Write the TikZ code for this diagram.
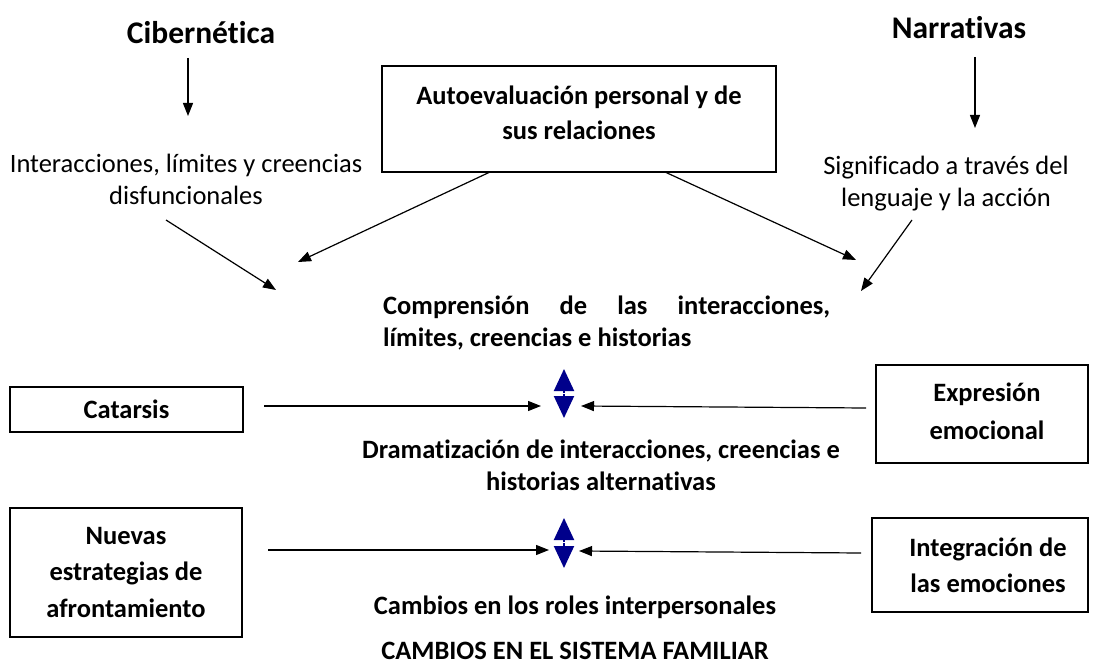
\documentclass[tikz,border=0pt]{standalone}
\usepackage{fontspec}
\setmainfont{Carlito}[Ligatures=NoCommon]
\usetikzlibrary{arrows.meta}
\begin{document}
\begin{tikzpicture}[x=1pt,y=-1pt,
  txt/.style={font=\fontsize{26.5}{32}\selectfont, align=center, inner sep=0pt},
  btxt/.style={font=\fontsize{26.5}{32}\selectfont\bfseries, align=center, inner sep=0pt},
  ttl/.style={font=\fontsize{31.5}{36}\selectfont\bfseries, inner sep=0pt},
  box/.style={draw, line width=1.4pt, inner sep=0pt, font=\fontsize{26.5}{36}\selectfont\bfseries, align=center},
  arr/.style={-{Triangle[length=13pt,width=10pt]}, line width=1.2pt},
  barr/.style={{Triangle[length=22pt,width=20pt]}-{Triangle[length=22pt,width=20pt]}, line width=2pt, draw={rgb,255:red,0;green,0;blue,139}, fill={rgb,255:red,0;green,0;blue,139}}
]
\useasboundingbox (0,0) rectangle (1096,666);

% titles
\node[ttl] (cib) at (201,33) {Cibernética};
\node[ttl] (nar) at (959,28) {Narrativas};

\coordinate (cibA) at (188,58);
\coordinate (cibB) at (188,116);
\draw[arr] (cibA) -- (cibB);
\coordinate (narA) at (975,57);
\coordinate (narB) at (975,128);
\draw[arr] (narA) -- (narB);

\node[txt] (inter) at (186,179) {Interacciones, límites y creencias\\disfuncionales};
\node[txt] (sig) at (946,184) {Significado a través del\\lenguaje y la acción};

% Autoevaluacion box
\node[box, minimum width=394pt, minimum height=106pt] (auto) at (579,119) {};
\node[btxt, font=\fontsize{26.5}{35}\selectfont\bfseries] (autot) at (579,112.5) {Autoevaluación personal y de\\sus relaciones};

% arrows to comprension
\coordinate (p1) at (166,220);
\coordinate (p2) at (276,290);
\draw[arr] (p1) -- (p2);
\coordinate (p3) at (490,172);
\coordinate (p4) at (298,262);
\draw[arr] (p3) -- (p4);
\coordinate (p5) at (665,172);
\coordinate (p6) at (856,260);
\draw[arr] (p5) -- (p6);
\coordinate (p7) at (912,220);
\coordinate (p8) at (861,291);
\draw[arr] (p7) -- (p8);

\node[btxt, text width=447pt, align=justify, anchor=north west] (comp) at (383,296) {\hyphenpenalty=10000\relax\exhyphenpenalty=10000\relax Comprensión de las interacciones, límites, creencias e historias};

% row 1
\node[box, minimum width=233pt, minimum height=45pt] (cat) at (126.5,409.5) {Catarsis};
\node[box, minimum width=212pt, minimum height=98pt] (expr) at (982,414) {};
\node[btxt, font=\fontsize{26.5}{38}\selectfont\bfseries] (exprt) at (987,411) {Expresión\\emocional};
\coordinate (d1t) at (564,369);
\coordinate (d1b) at (564,418);
\draw[barr] (d1t) -- (d1b);
\draw[white, line width=1.2pt] (556,393.5) -- (572,393.5);
\coordinate (c1a) at (264,406);
\coordinate (c1b) at (541,406);
\draw[arr] (c1a) -- (c1b);
\coordinate (c1c) at (866,408);
\coordinate (c1d) at (581,406);
\draw[arr] (c1c) -- (c1d);

\node[btxt] (dram) at (601,465) {Dramatización de interacciones, creencias e\\historias alternativas};

% row 2
\node[box, minimum width=232pt, minimum height=129pt, font=\fontsize{26.5}{36.5}\selectfont\bfseries] (nue) at (126,572.5) {Nuevas\\estrategias de\\afrontamiento};
\node[box, minimum width=216pt, minimum height=94pt] (integ) at (980,565) {};
\node[btxt, font=\fontsize{26.5}{36}\selectfont\bfseries] (integt) at (988,565) {Integración de\\las emociones};
\coordinate (d2t) at (564,518);
\coordinate (d2b) at (564,568);
\draw[barr] (d2t) -- (d2b);
\draw[white, line width=1.2pt] (556,542.5) -- (572,542.5);
\coordinate (c2a) at (268,550);
\coordinate (c2b) at (549,550);
\draw[arr] (c2a) -- (c2b);
\coordinate (c2c) at (861,553);
\coordinate (c2d) at (579,551);
\draw[arr] (c2c) -- (c2d);

\node[btxt, anchor=base] (camb) at (575,614) {Cambios en los roles interpersonales};
\node[btxt, anchor=base, text depth=0pt] (fam) at (575,659) {CAMBIOS EN EL SISTEMA FAMILIAR};
\end{tikzpicture}
\end{document}
